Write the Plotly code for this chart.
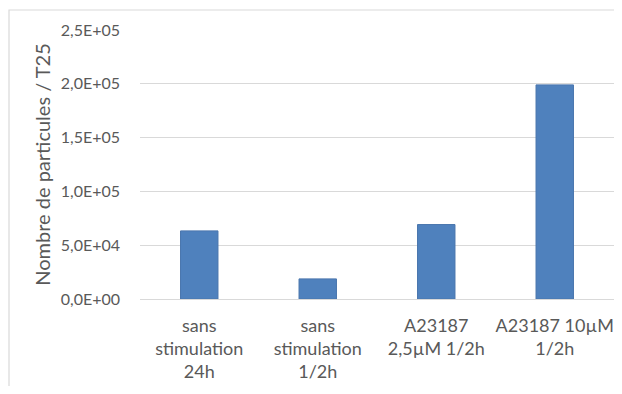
import plotly.graph_objects as go

categories = ["sans<br>stimulation<br>24h", "sans<br>stimulation<br>1/2h", "A23187<br>2,5µM 1/2h", "A23187 10µM<br>1/2h"]
values = [63300, 18700, 69200, 199000]
tick_vals = [0, 50000, 100000, 150000, 200000, 250000]
tick_text = ["0,0E+00", "5,0E+04", "1,0E+05", "1,5E+05", "2,0E+05", "2,5E+05"]
y_title = "Nombre de particules / T25"

# page body has an 8px margin on each side; keep the figure inside the window
W, H = 606, 378
L, R, T, B = 132, 0, 22, 87.3
FONT = "Lato"
GREY = "#595959"

fig = go.Figure(go.Bar(x=categories, y=values,
                       marker=dict(color="#4F81BD", line=dict(color="#4a76ad", width=1))))

pw = W - L - R
ph = H - T - B
fig.update_layout(
    width=W, height=H,
    margin=dict(l=L, r=R, t=T, b=B, autoexpand=False),
    paper_bgcolor="white", plot_bgcolor="white",
    bargap=0.684,
    showlegend=False,
    font=dict(family=FONT, color=GREY, size=16),
    shapes=[dict(type="rect", xref="paper", yref="paper",
                 x0=(1 - L) / pw, x1=1.5,
                 y0=-1.0, y1=(H - B - 2) / ph,
                 line=dict(color="#d9d9d9", width=1.2), fillcolor="rgba(0,0,0,0)", layer="below")],
)
fig.update_xaxes(showline=True, linecolor="#d9d9d9", linewidth=1,
                 showgrid=False, ticks="", automargin=False, ticklabelstandoff=10,
                 tickfont=dict(family=FONT, size=18, color=GREY))
fig.update_yaxes(range=[0, 250000], tickvals=tick_vals, ticktext=tick_text,
                 showgrid=True, gridcolor="#d9d9d9", gridwidth=1, zeroline=False,
                 showline=False, ticks="", ticklabelstandoff=19,
                 tickfont=dict(family=FONT, size=16, color=GREY),
                 title=dict(text=y_title, font=dict(family=FONT, size=20, color=GREY), standoff=4),
                 automargin=False)

fig.write_html("out.html")
